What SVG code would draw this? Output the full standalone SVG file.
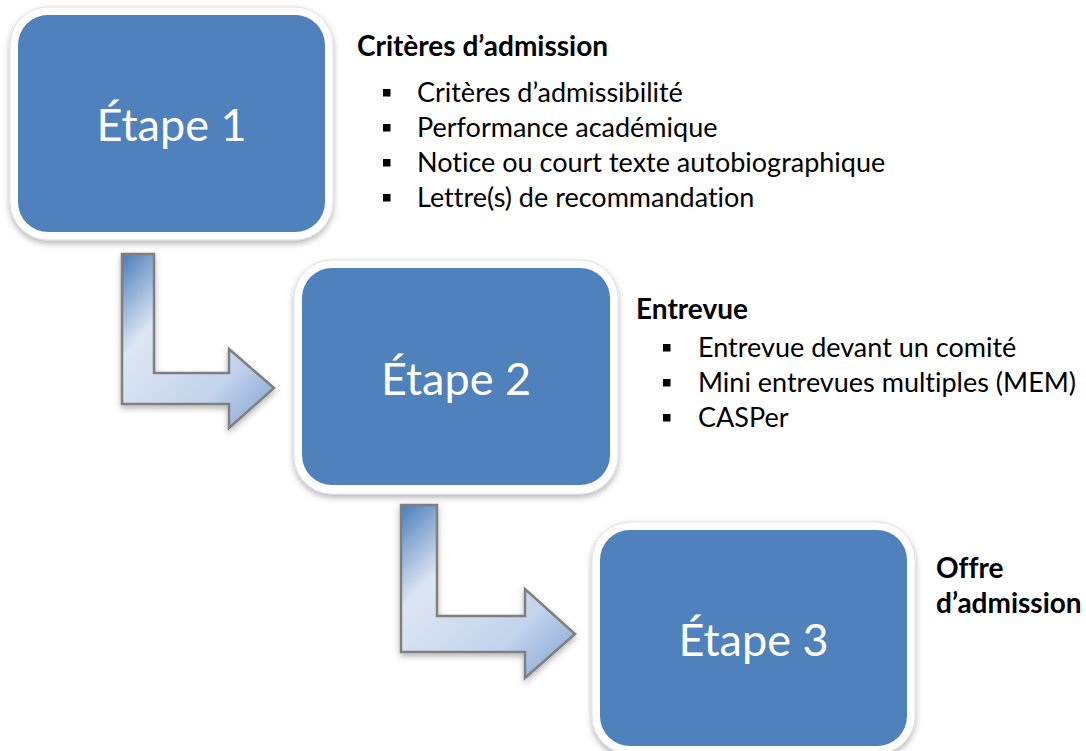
<svg xmlns="http://www.w3.org/2000/svg" width="1086" height="751" viewBox="0 0 1086 751">
<style>
.frame{fill:#ffffff;stroke:#dcdcdc;stroke-width:0.8}
.box{fill:#4f81bd}
.step{font-family:Lato,"Open Sans",sans-serif;font-size:45px;fill:#ffffff;text-anchor:middle}
.head{font-family:Lato,"Open Sans",sans-serif;font-size:28px;font-weight:bold;fill:#000000;font-variant-ligatures:none}
.item{font-family:Lato,"Open Sans",sans-serif;font-size:27px;fill:#000000;font-variant-ligatures:none}
.bullet{fill:#000000}
.arrow{fill:url(#arrowGrad);stroke:#7f7f7f;stroke-width:2.5;stroke-linejoin:miter}
</style>
<defs>
<filter id="shadow" x="-10%" y="-10%" width="120%" height="125%">
<feDropShadow dx="0" dy="3" stdDeviation="3" flood-color="#000000" flood-opacity="0.3"/>
</filter>
<linearGradient id="arrowGrad" x1="0" y1="0" x2="1" y2="1">
<stop offset="0" stop-color="#4a7cbb"/>
<stop offset="0.3" stop-color="#dde6f3"/>
<stop offset="0.7" stop-color="#c3d3ec"/>
<stop offset="1" stop-color="#7da0d2"/>
</linearGradient>
</defs>

<g id="connectors">
<polygon class="arrow" filter="url(#shadow)" points="122,254 154,254 154,373 229,373 229,349 274,388 229,428 229,404 122,404"/>
<polygon class="arrow" filter="url(#shadow)" points="401,505 437,505 437,616 525,616 525,589 575,634 525,678 525,652 401,652"/>
</g>

<g id="step1">
<rect class="frame" filter="url(#shadow)" x="10" y="7" width="323" height="233" rx="38"/>
<rect class="box" x="18" y="15" width="307" height="217" rx="30"/>
<text class="step" x="171.5" y="141">Étape 1</text>
</g>

<g id="step2">
<rect class="frame" filter="url(#shadow)" x="294" y="260" width="324" height="234" rx="38"/>
<rect class="box" x="302" y="268" width="308" height="217" rx="30"/>
<text class="step" x="456" y="395">Étape 2</text>
</g>

<g id="step3">
<rect class="frame" filter="url(#shadow)" x="592" y="522" width="323" height="232" rx="38"/>
<rect class="box" x="600" y="530" width="307" height="216" rx="30"/>
<text class="step" x="753.5" y="656">Étape 3</text>
</g>

<g id="text1">
<text class="head" x="357" y="56">Critères d’admission</text>
<rect class="bullet" x="383" y="89" width="7.5" height="7.5"/>
<text class="item" x="417" y="102">Critères d’admissibilité</text>
<rect class="bullet" x="383" y="124" width="7.5" height="7.5"/>
<text class="item" x="417" y="137">Performance académique</text>
<rect class="bullet" x="383" y="159" width="7.5" height="7.5"/>
<text class="item" x="417" y="172">Notice ou court texte autobiographique</text>
<rect class="bullet" x="383" y="194" width="7.5" height="7.5"/>
<text class="item" x="417" y="207">Lettre(s) de recommandation</text>
</g>

<g id="text2">
<text class="head" x="636" y="319">Entrevue</text>
<rect class="bullet" x="663" y="344" width="7.5" height="7.5"/>
<text class="item" x="698" y="357">Entrevue devant un comité</text>
<rect class="bullet" x="663" y="379" width="7.5" height="7.5"/>
<text class="item" x="698" y="392">Mini entrevues multiples (MEM)</text>
<rect class="bullet" x="663" y="414" width="7.5" height="7.5"/>
<text class="item" x="698" y="427">CASPer</text>
</g>

<g id="text3">
<text class="head" x="936" y="578">Offre</text>
<text class="head" x="936" y="613">d’admission</text>
</g>
</svg>
